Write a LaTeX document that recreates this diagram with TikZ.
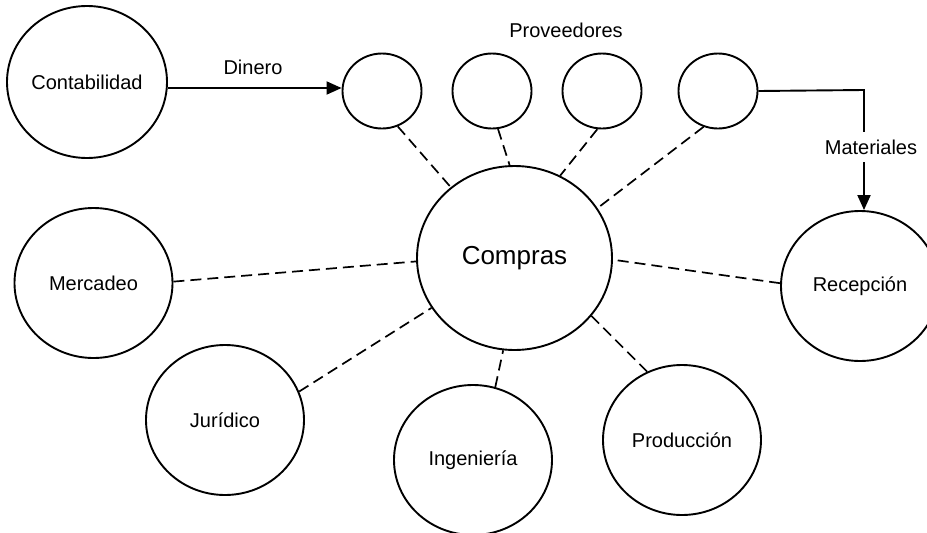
\documentclass[tikz,border=0pt]{standalone}
\usepackage{fontspec}
\setmainfont{Liberation Sans}
\usetikzlibrary{shapes.geometric,arrows.meta}
\begin{document}
\begin{tikzpicture}[x=1pt,y=-1pt,
  unit/.style={ellipse,draw,line width=1.9pt,inner sep=0pt,
    minimum width=158pt,minimum height=150pt,
    font=\fontsize{20}{24}\selectfont},
  supplier/.style={ellipse,draw,line width=1.9pt,inner sep=0pt,
    minimum width=79pt,minimum height=75pt},
  hub/.style={ellipse,draw,line width=1.9pt,inner sep=0pt,
    minimum width=195pt,minimum height=184pt,
    font=\fontsize{26}{30}\selectfont},
  link/.style={line width=1.7pt,dash pattern=on 11pt off 6pt},
  flow/.style={line width=1.9pt,-{Triangle[length=15pt,width=13pt]}},
  caption/.style={font=\fontsize{20}{24}\selectfont}]
  \useasboundingbox (0,0) rectangle (927,533);

  % central purchasing department
  \node[hub] (compras) at (514.5,258) {Compras};

  % departments around it
  \node[unit,minimum width=160pt,minimum height=152pt] (contab) at (87,82) {Contabilidad};
  \node[unit] (mercadeo) at (93.5,283) {Mercadeo};
  \node[unit] (juridico) at (225,420) {Jurídico};
  \node[unit] (ingenieria) at (473,460) {Ingeniería};
  \node[unit] (produccion) at (682,440) {Producción};
  \node[unit] (recepcion) at (860,286) {Recepción};

  % suppliers
  \node[supplier] (prov1) at (382,91) {};
  \node[supplier] (prov2) at (492,91) {};
  \node[supplier] (prov3) at (602,91) {};
  \node[supplier] (prov4) at (718,91) {};
  \node[caption] (provlabel) at (566,30) {Proveedores};

  % relations with the purchasing department
  \draw[link] (prov1.-66) -- (compras.132);
  \draw[link] (prov2.-81) -- (compras.93);
  \draw[link] (prov3.-97) -- (compras.61);
  \draw[link] (prov4.-112) -- (compras.31);
  \draw[link] (mercadeo.1) -- (compras.182);
  \draw[link] (juridico.21) -- (compras.211);
  \draw[link] (ingenieria.73) -- (compras.-97);
  \draw[link] (produccion.117) -- (compras.-37);
  \draw[link] (recepcion.178) -- (compras.-1);

  % money and material flows
  \draw[flow] (contab.east |- 0,88) -- (prov1.west |- 0,88);
  \node[caption] (dinero) at (253,67) {Dinero};
  \coordinate (mcorner) at (864,90);
  \draw[flow] (prov4.east) -- (mcorner) -- (mcorner |- recepcion.north);
  \node[caption,fill=white,inner xsep=2pt,inner ysep=8pt] (material) at (871,147) {Materiales};
\end{tikzpicture}
\end{document}
